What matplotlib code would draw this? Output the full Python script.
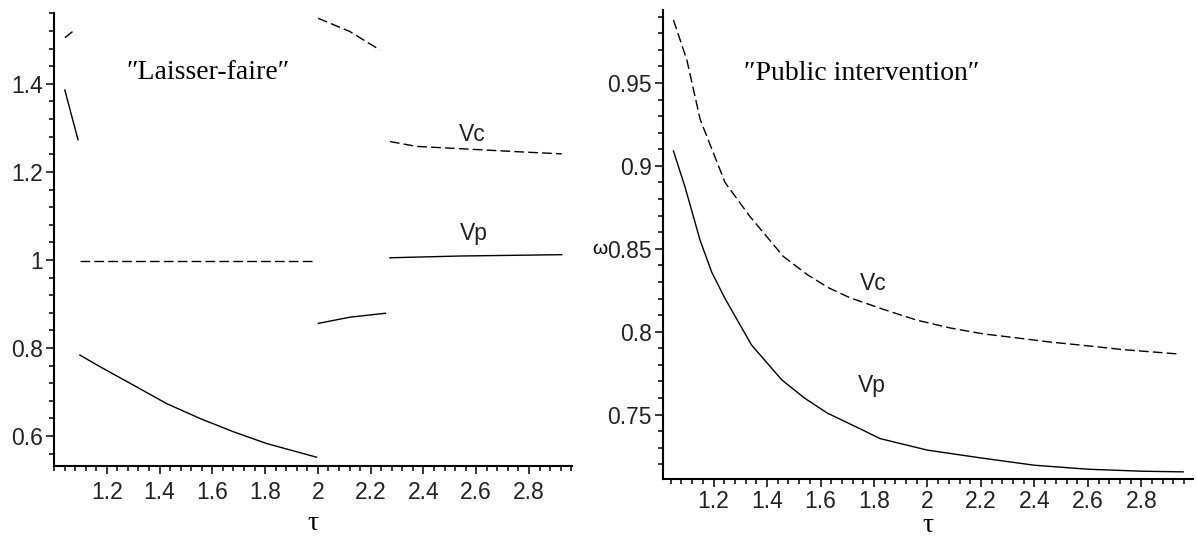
import matplotlib
matplotlib.use('Agg')
import matplotlib.pyplot as plt
from matplotlib.ticker import MultipleLocator, FuncFormatter

# "Laisser-faire" panel: piecewise branches (tau, value)
lf_vc_segments = [
    ([1.041, 1.073], [1.505, 1.520]),
    ([1.098, 1.989], [0.998, 0.998]),
    ([2.001, 2.121, 2.235], [1.549, 1.519, 1.477]),
    ([2.273, 2.374, 2.564, 2.753, 2.924], [1.269, 1.258, 1.252, 1.246, 1.241]),
]
lf_vp_segments = [
    ([1.041, 1.091], [1.386, 1.273]),
    ([1.098, 1.173, 1.300, 1.426, 1.553, 1.679, 1.806, 1.995],
     [0.784, 0.758, 0.716, 0.674, 0.640, 0.610, 0.583, 0.552]),
    ([2.002, 2.121, 2.256], [0.856, 0.870, 0.879]),
    ([2.273, 2.54, 2.924], [1.005, 1.009, 1.012]),
]

# "Public intervention" panel
pi_tau_vc = [1.05, 1.10, 1.15, 1.243, 1.336, 1.461, 1.55, 1.63, 1.71, 1.835, 1.960,
             2.084, 2.209, 2.333, 2.458, 2.582, 2.732, 2.945]
pi_vc = [0.988, 0.964, 0.928, 0.890, 0.8695, 0.8454, 0.8345, 0.8265, 0.8205, 0.8135,
         0.8070, 0.8023, 0.7987, 0.7963, 0.7938, 0.7918, 0.7892, 0.7865]
pi_tau_vp = [1.05, 1.093, 1.15, 1.193, 1.243, 1.342, 1.455, 1.540, 1.625, 1.767,
             1.822, 2.0, 2.2, 2.4, 2.6, 2.8, 2.956]
pi_vp = [0.909, 0.8875, 0.855, 0.836, 0.820, 0.792, 0.771, 0.760, 0.751, 0.740,
         0.7356, 0.7286, 0.7239, 0.7195, 0.7171, 0.7159, 0.7155]

W, H = 1197, 538
fig = plt.figure(figsize=(W / 100, H / 100), dpi=100)

tick_font = ['Liberation Sans', 'DejaVu Sans']
serif_font = ['Liberation Serif', 'DejaVu Serif']
fmt = FuncFormatter(lambda v, p: '%g' % round(v, 3))
tick_size = 16.5


def style_axes(ax, xpad):
    for s in ('top', 'right'):
        ax.spines[s].set_visible(False)
    for s in ('left', 'bottom'):
        ax.spines[s].set_linewidth(1.5)
    ax.tick_params(which='major', direction='out', length=6, width=1.1)
    ax.tick_params(which='minor', direction='out', length=3.5, width=1.1)
    ax.tick_params(axis='y', which='major', pad=2)
    ax.tick_params(axis='x', which='major', pad=xpad)
    ax.xaxis.set_major_formatter(fmt)
    ax.yaxis.set_major_formatter(fmt)


def font_ticks(ax):
    for lab in ax.get_xticklabels() + ax.get_yticklabels():
        lab.set_family(tick_font)
        lab.set_fontsize(tick_size)
        lab.set_color('#222222')


# left panel
ax1 = fig.add_axes([54 / W, 1 - 466 / H, (572 - 54) / W, (466 - 13) / H])
for t, v in lf_vc_segments:
    ax1.plot(t, v, color='black', lw=1.0, dashes=(7, 3))
for t, v in lf_vp_segments:
    ax1.plot(t, v, color='black', lw=1.0)
ax1.set_xlim(1.0, 2.963)
ax1.set_ylim(0.532, 1.561)
ax1.xaxis.set_minor_locator(MultipleLocator(0.04))
ax1.yaxis.set_minor_locator(MultipleLocator(0.04))
style_axes(ax1, 5)
ax1.set_xticks([1.2, 1.4, 1.6, 1.8, 2.0, 2.2, 2.4, 2.6, 2.8])
ax1.set_yticks([0.6, 0.8, 1.0, 1.2, 1.4])
font_ticks(ax1)
ax1.set_xlabel('τ', family=serif_font, fontsize=20)
ax1.xaxis.set_label_coords(0.5, (466 - 524) / 453)
ax1.xaxis.label.set_va('center')
ax1.text(1.584, 1.425, '″Laisser-faire″', family=serif_font, fontsize=20,
         ha='center', va='center')
ax1.text(2.584, 1.286, 'Vc', family=tick_font, fontsize=16.5, ha='center', va='center',
         color='#222222')
ax1.text(2.592, 1.061, 'Vp', family=tick_font, fontsize=16.5, ha='center', va='center',
         color='#222222')

# right panel
ax2 = fig.add_axes([663 / W, 1 - 479 / H, (1193 - 663) / W, (479 - 10) / H])
ax2.plot(pi_tau_vc, pi_vc, color='black', lw=1.0, dashes=(7, 3))
ax2.plot(pi_tau_vp, pi_vp, color='black', lw=1.0)
ax2.set_xlim(1.011, 2.993)
ax2.set_ylim(0.7112, 0.994)
ax2.xaxis.set_minor_locator(MultipleLocator(0.04))
ax2.yaxis.set_minor_locator(MultipleLocator(0.01))
style_axes(ax2, 2)
ax2.set_xticks([1.2, 1.4, 1.6, 1.8, 2.0, 2.2, 2.4, 2.6, 2.8])
ax2.set_yticks([0.75, 0.8, 0.85, 0.9, 0.95])
font_ticks(ax2)
ax2.set_xlabel('τ', family=serif_font, fontsize=20)
ax2.xaxis.set_label_coords(0.5, (479 - 526) / 469)
ax2.xaxis.label.set_va('center')
ax2.set_ylabel('ω', family=tick_font, fontsize=14, rotation=0, ha='center', va='center')
ax2.yaxis.set_label_coords((600 - 663) / 530, (479 - 250) / 469)
ax2.text(1.755, 0.956, '″Public intervention″', family=serif_font, fontsize=20,
         ha='center', va='center')
ax2.text(1.796, 0.8292, 'Vc', family=tick_font, fontsize=16.5, ha='center', va='center',
         color='#222222')
ax2.text(1.793, 0.7678, 'Vp', family=tick_font, fontsize=16.5, ha='center', va='center',
         color='#222222')

fig.savefig('out.png', dpi=100)
